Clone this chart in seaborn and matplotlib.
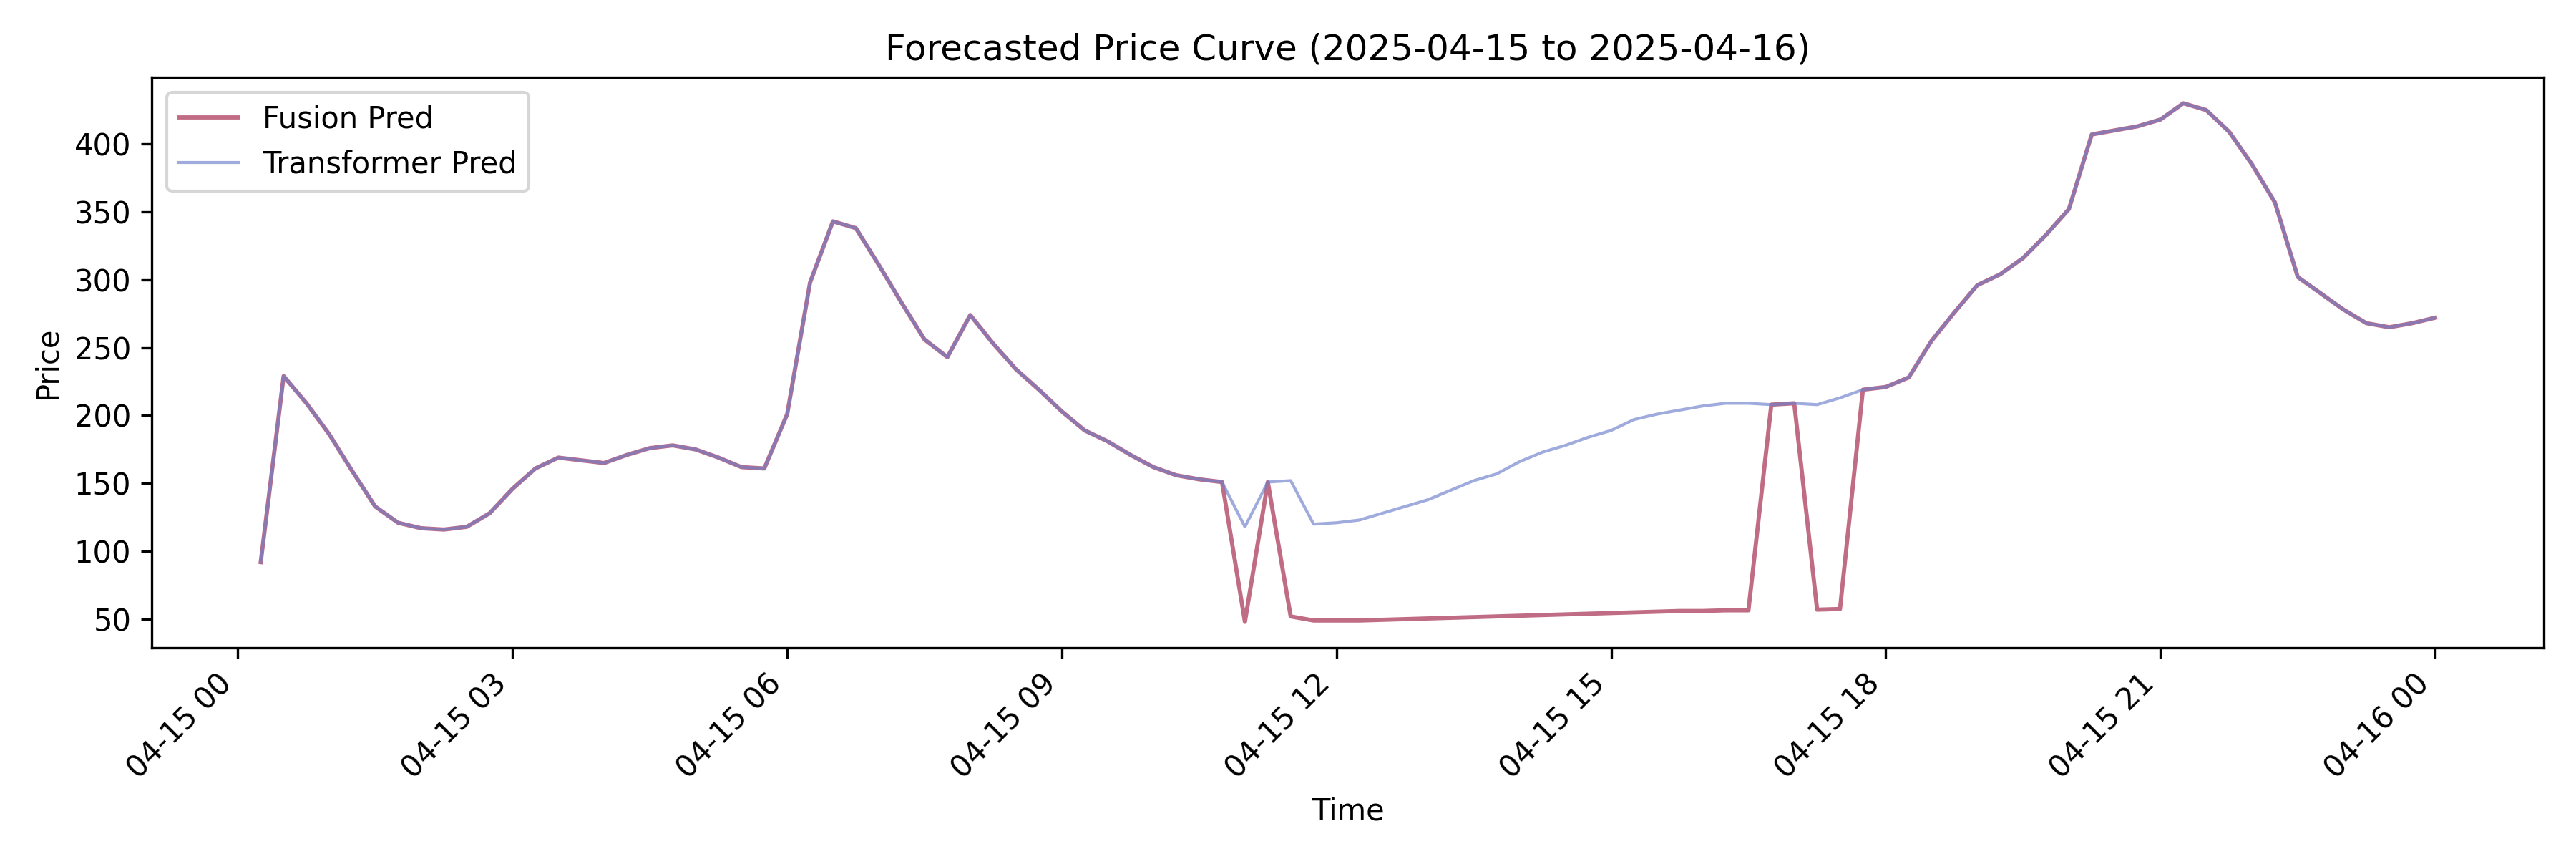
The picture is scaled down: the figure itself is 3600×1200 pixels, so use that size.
import matplotlib
matplotlib.use('Agg')
import matplotlib.pyplot as plt
import matplotlib.dates as mdates
import seaborn as sns
import pandas as pd

# 15-minute forecast points, 2025-04-15 00:15 -> 2025-04-16 00:00
times = pd.date_range('2025-04-15 00:15', '2025-04-16 00:00', freq='15min')

# shared part of both curves (00:15 - 10:45)
common_morning = [92, 229, 209, 186, 159, 133, 121, 117, 116, 118, 128, 146,
                  161, 169, 167, 165, 171, 176, 178, 175, 169, 162, 161, 201,
                  298, 343, 338, 311, 283, 256, 243, 274, 253, 234, 219, 203,
                  189, 181, 171, 162, 156, 153, 151]

# 11:00 - 17:30, where the two models differ
fusion_mid = [48, 151, 52, 49, 49, 49, 49.5, 50, 50.5, 51, 51.5, 52, 52.5,
              53, 53.5, 54, 54.5, 55, 55.5, 56, 56, 56.5, 56.5, 208, 209,
              57, 57.5]
transformer_mid = [118, 151, 152, 120, 121, 123, 128, 133, 138, 145, 152, 157,
                   166, 173, 178, 184, 189, 197, 201, 204, 207, 209, 209, 208,
                   209, 208, 213]

# shared part again (17:45 - 00:00)
common_evening = [219, 221, 228, 255, 276, 296, 304, 316, 333, 352, 407, 410,
                  413, 418, 430, 425, 409, 385, 357, 302, 290, 278, 268, 265,
                  268, 272]

fusion_pred = common_morning + fusion_mid + common_evening
transformer_pred = common_morning + transformer_mid + common_evening

df = pd.DataFrame({'Time': times, 'Fusion': fusion_pred, 'Transformer': transformer_pred})

fig, ax = plt.subplots(figsize=(12, 4), dpi=300)
sns.lineplot(data=df, x='Time', y='Fusion', ax=ax, label='Fusion Pred',
             color='#C06C84', linewidth=1.4)
sns.lineplot(data=df, x='Time', y='Transformer', ax=ax, label='Transformer Pred',
             color='#6C7FCB', linewidth=1.0, alpha=0.65)

ax.xaxis.set_major_locator(mdates.HourLocator(byhour=range(0, 24, 3)))
ax.xaxis.set_major_formatter(mdates.DateFormatter('%m-%d %H'))
plt.setp(ax.get_xticklabels(), rotation=45, ha='right')

ax.set_title('Forecasted Price Curve (2025-04-15 to 2025-04-16)')
ax.set_xlabel('Time')
ax.set_ylabel('Price')
ax.legend(loc='upper left')

plt.tight_layout()
plt.savefig('out.png', dpi=300)
